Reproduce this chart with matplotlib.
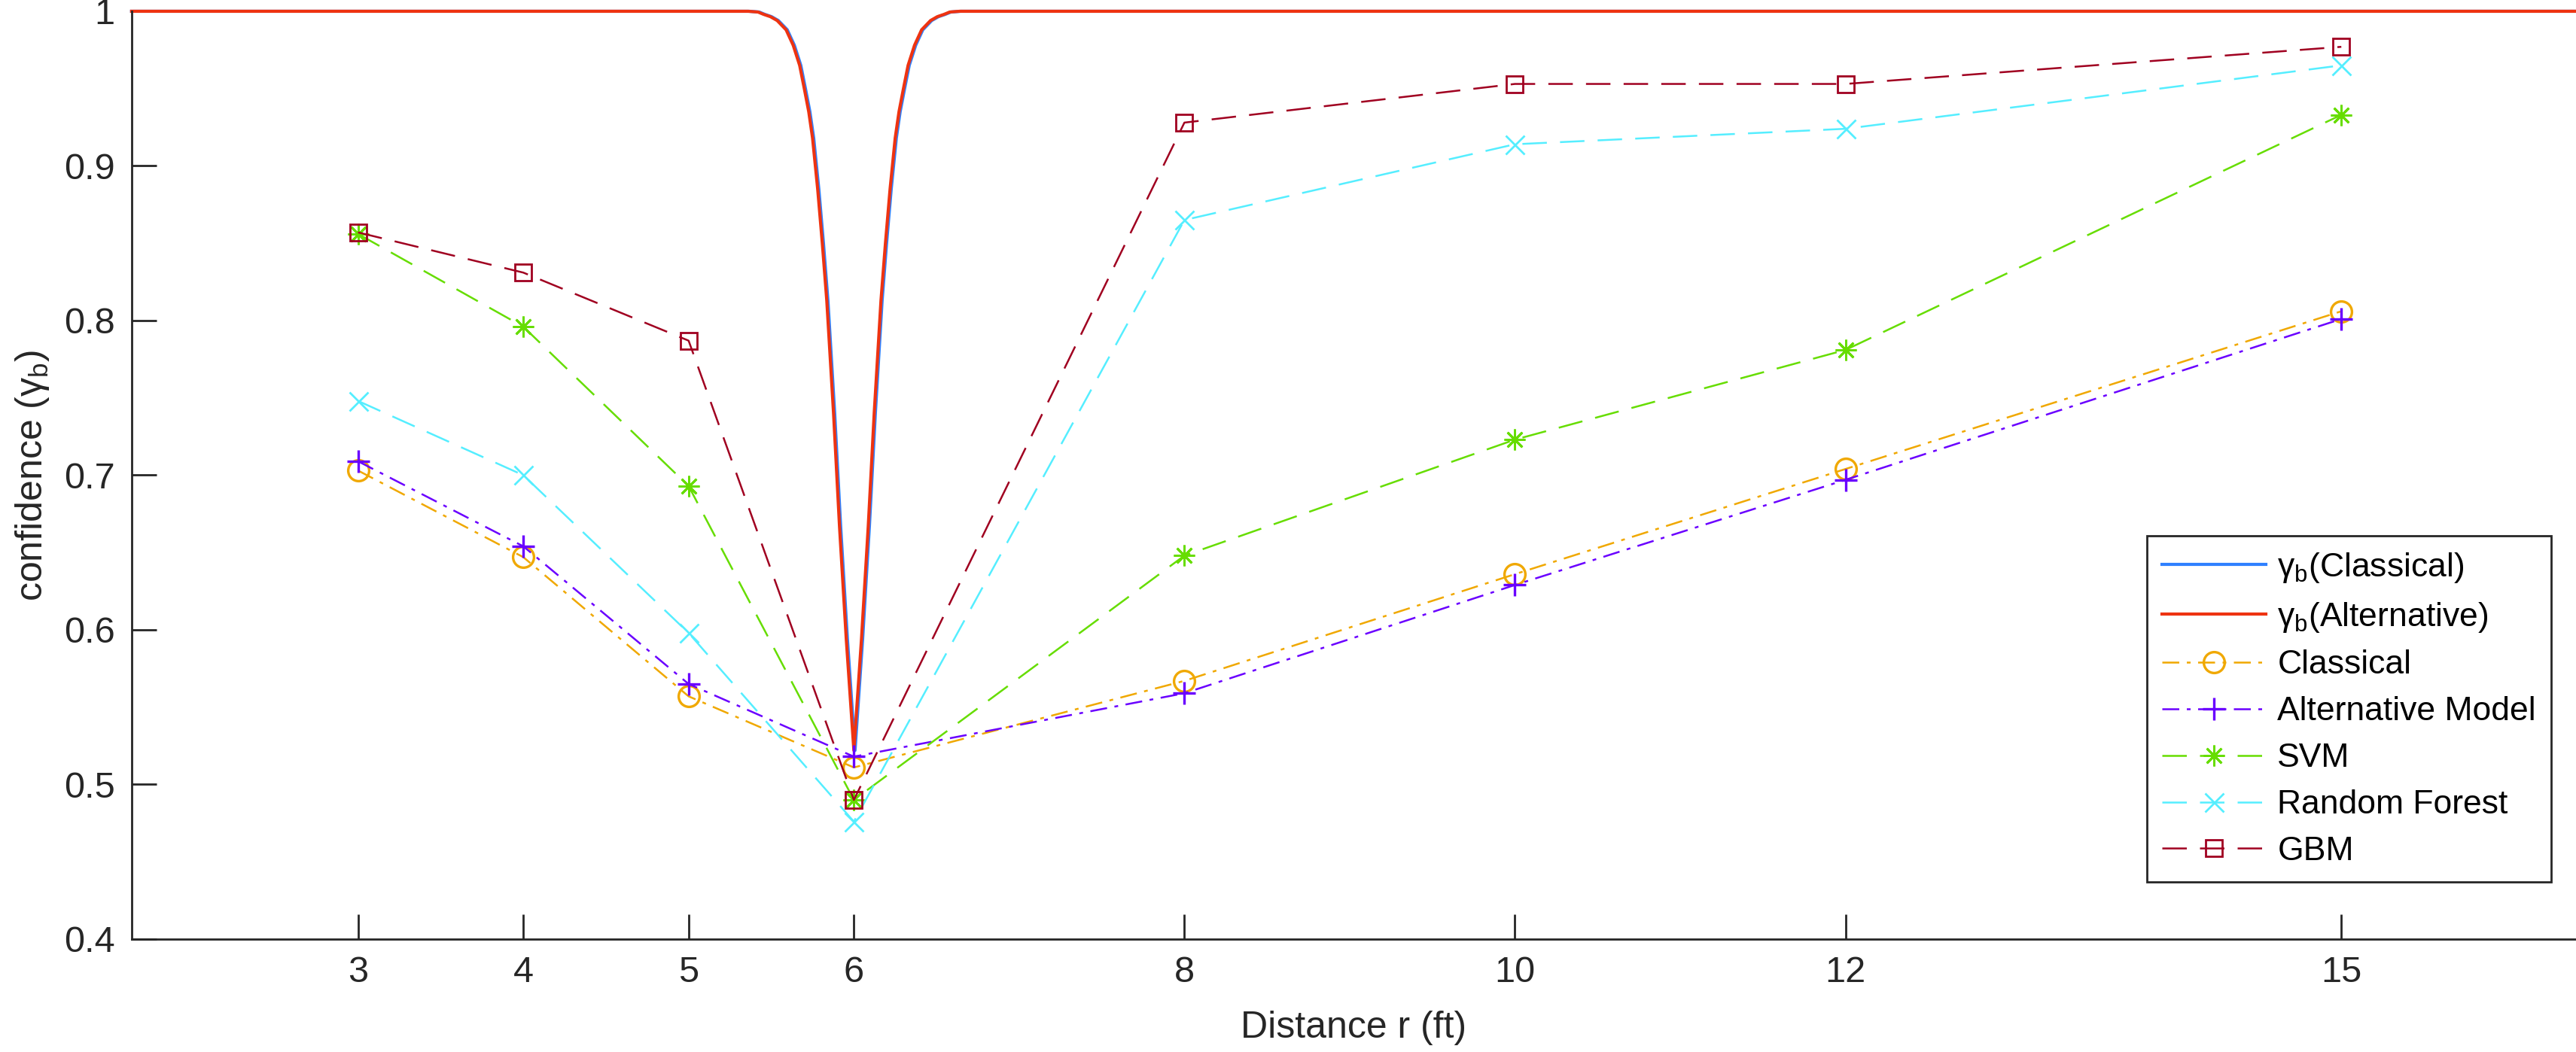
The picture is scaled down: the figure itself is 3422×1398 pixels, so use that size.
import numpy as np
import matplotlib
matplotlib.use('Agg')
import matplotlib.pyplot as plt

plt.rcParams['font.family'] = ['Liberation Sans', 'DejaVu Sans']
plt.rcParams['mathtext.fontset'] = 'custom'
plt.rcParams['mathtext.rm'] = 'Liberation Sans'
plt.rcParams['mathtext.it'] = 'Liberation Sans:italic'

# distances used by the models
r = [3, 4, 5, 6, 8, 10, 12, 15]
classical = [0.703, 0.647, 0.557, 0.511, 0.567, 0.636, 0.704, 0.806]
alternative = [0.709, 0.654, 0.565, 0.518, 0.559, 0.629, 0.697, 0.801]
svm = [0.856, 0.796, 0.693, 0.490, 0.648, 0.723, 0.781, 0.933]
random_forest = [0.748, 0.700, 0.598, 0.476, 0.865, 0.914, 0.924, 0.965]
gbm = [0.857, 0.831, 0.787, 0.490, 0.928, 0.953, 0.953, 0.977]

# gamma_b curves
r_gamma_alt = [1.63, 5.36, 5.42, 5.454, 5.495, 5.536, 5.59, 5.633, 5.672, 5.70,
               5.727, 5.75, 5.781, 5.809, 5.836, 5.877, 5.913, 5.954, 6.0,
               6.046, 6.087, 6.123, 6.164, 6.191, 6.219, 6.25, 6.273, 6.30,
               6.328, 6.367, 6.41, 6.464, 6.505, 6.546, 6.58, 6.64, 16.42]
gamma_alt = [1.0, 1.0, 0.9995, 0.998, 0.9965, 0.994, 0.988, 0.978, 0.965, 0.950,
             0.935, 0.918, 0.885, 0.850, 0.813, 0.740, 0.667, 0.594, 0.522,
             0.594, 0.667, 0.740, 0.813, 0.850, 0.885, 0.918, 0.935, 0.950,
             0.965, 0.978, 0.988, 0.994, 0.9965, 0.998, 0.9995, 1.0, 1.0]
r_gamma_cls = [1.63, 5.367, 5.427, 5.461, 5.502, 5.543, 5.597, 5.640, 5.679, 5.707,
               5.734, 5.757, 5.788, 5.816, 5.843, 5.884, 5.920, 5.961, 6.007,
               6.053, 6.094, 6.130, 6.171, 6.198, 6.226, 6.257, 6.280, 6.307,
               6.335, 6.374, 6.417, 6.471, 6.512, 6.553, 6.587, 6.647, 16.42]
gamma_cls = [1.0, 1.0, 0.9995, 0.998, 0.9965, 0.994, 0.988, 0.978, 0.965, 0.950,
             0.935, 0.918, 0.885, 0.850, 0.813, 0.740, 0.667, 0.594, 0.522,
             0.594, 0.667, 0.740, 0.813, 0.850, 0.885, 0.918, 0.935, 0.950,
             0.965, 0.978, 0.988, 0.994, 0.9965, 0.998, 0.9995, 1.0, 1.0]

fig = plt.figure(figsize=(17.11, 6.99), dpi=200)
ax = fig.add_axes([0.0511, 0.1073, 0.9489, 0.882])

ax.plot(r_gamma_cls, gamma_cls, color='#2f80ff', lw=1.5, label=r'$\mathregular{\gamma_b}$(Classical)', clip_on=False)
ax.plot(r_gamma_alt, gamma_alt, color='#ee3311', lw=1.5, label=r'$\mathregular{\gamma_b}$(Alternative)', clip_on=False)

dashdot = (9, 4, 2, 4)
dash = (13, 7)
ax.plot(r, classical, color='#f0a800', lw=0.9, dashes=dashdot, marker='o', ms=10,
        mfc='none', mew=1.2, label='Classical')
ax.plot(r, alternative, color='#6a00ff', lw=0.9, dashes=dashdot, marker='+', ms=11,
        mew=1.2, label='Alternative Model')
ax.plot(r, svm, color='#66dd00', lw=0.9, dashes=dash, marker=(8, 2, 0), ms=10,
        mew=1.0, label='SVM')
ax.plot(r, random_forest, color='#55eeff', lw=0.9, dashes=dash, marker='x', ms=9,
        mew=1.0, label='Random Forest')
ax.plot(r, gbm, color='#a00020', lw=0.9, dashes=dash, marker='s', ms=8,
        mfc='none', mew=1.0, label='GBM')

ax.set_xlim(1.63, 16.42)
ax.set_ylim(0.4, 1.0)
ax.set_xticks(r)
ax.set_xticklabels([str(v) for v in r])
ax.set_yticks([0.4, 0.5, 0.6, 0.7, 0.8, 0.9, 1.0])
ax.set_yticklabels(['0.4', '0.5', '0.6', '0.7', '0.8', '0.9', '1'])
ax.tick_params(direction='in', length=12, width=1.0, labelsize=17.5,
               colors='#262626', pad=8)
ax.spines['top'].set_visible(False)
ax.spines['right'].set_visible(False)
for s in ['left', 'bottom']:
    ax.spines[s].set_color('#262626')
    ax.spines[s].set_linewidth(1.0)

ax.set_xlabel('Distance r (ft)', fontsize=18, color='#262626', labelpad=10)
ax.set_ylabel(r'confidence ($\mathregular{\gamma_b}$)', fontsize=18, color='#262626', labelpad=6)

leg = ax.legend(loc='lower right', bbox_to_anchor=(0.9898, 0.0616), borderaxespad=0,
                fontsize=16, handlelength=3.1, fancybox=False, framealpha=1,
                edgecolor='#262626', labelspacing=0.47, borderpad=0.45, handletextpad=0.35)
leg.get_frame().set_linewidth(1.0)

fig.savefig('out.png', dpi=200)
